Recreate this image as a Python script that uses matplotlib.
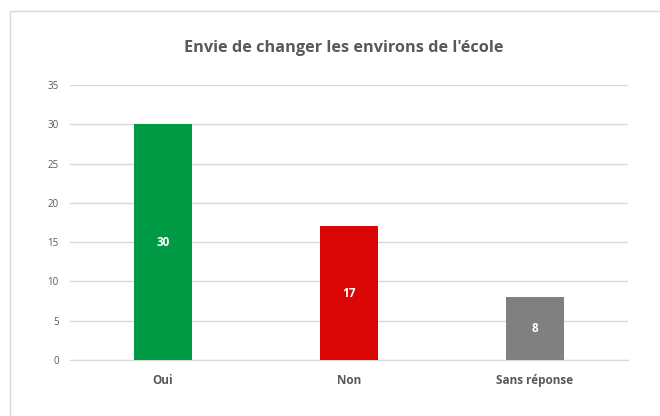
import matplotlib
matplotlib.use("Agg")
import matplotlib.pyplot as plt
from matplotlib.patches import Rectangle

categories = ["Oui", "Non", "Sans réponse"]
values = [30, 17, 8]
colors = ["#009944", "#DA0505", "#808080"]
yticks = [0, 5, 10, 15, 20, 25, 30, 35]

plt.rcParams['font.family'] = ['Open Sans', 'DejaVu Sans']
text_col = "#595959"

fig = plt.figure(figsize=(6.6, 4.16), dpi=100)
ax = fig.add_axes([0.106, 0.1346, 0.8455, 0.6611])

# cadre du graphique (coupé à droite et en bas)
fig.patches.append(Rectangle((10 / 660, -0.1), 1.2, 1 - 11 / 416 + 0.1,
                             transform=fig.transFigure, fill=False,
                             edgecolor="#D9D9D9", linewidth=1))

x = range(len(categories))
bars = ax.bar(x, values, width=0.31, color=colors, zorder=3)
for b, v in zip(bars, values):
    ax.text(b.get_x() + b.get_width() / 2, v / 2, str(v), ha="center", va="center",
            color="white", fontsize=8.5, fontweight="bold", zorder=4)

ax.set_xlim(-0.5, 2.5)
ax.set_ylim(0, 35)
ax.set_yticks(yticks)
ax.set_xticks(list(x))
ax.set_xticklabels(categories, fontsize=8.5, fontweight="bold", color=text_col)
ax.tick_params(axis="y", labelsize=7, colors=text_col, length=0, pad=8)
ax.tick_params(axis="x", length=0, pad=10)
ax.grid(axis="y", color="#D9D9D9", linewidth=1, zorder=0)
for s in ["top", "right", "left"]:
    ax.spines[s].set_visible(False)
ax.spines["bottom"].set_color("#D9D9D9")

fig.text(344 / 660, 1 - 48 / 416, "Envie de changer les environs de l'école",
         ha="center", va="center", fontsize=11.7, fontweight="bold", color=text_col)

fig.savefig("out.png", dpi=100)
